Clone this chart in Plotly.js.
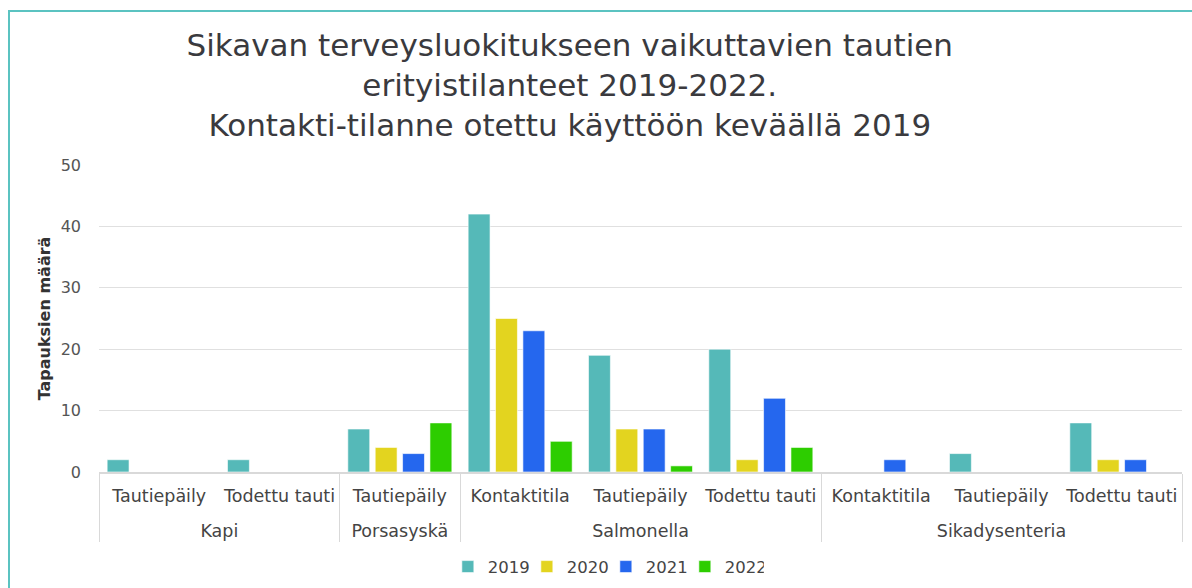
<!DOCTYPE html>
<html>
<head>
<meta charset="utf-8">
<script src="https://cdn.plot.ly/plotly-3.0.1.min.js"></script>
<style>
html,body{margin:0;padding:0;background:#fff;overflow:hidden;}
#frame{position:absolute;left:8px;top:10px;width:1200px;height:600px;border-left:2px solid #5BC3C1;border-top:2px solid #5BC3C1;box-sizing:border-box;pointer-events:none;}
#chart{position:absolute;left:0;top:0;width:1192px;height:588px;}
</style>
</head>
<body>
<div id="chart"></div>
<div id="frame"></div>
<script>
// Zero-width space (\u200B) keeps repeated sub-labels distinct so Plotly keeps the original order.
const ZW = "\u200B";
const diseases = ["Kapi","Kapi","Porsasyskä","Salmonella","Salmonella","Salmonella","Sikadysenteria","Sikadysenteria","Sikadysenteria"];
const situations = ["Tautiepäily","Todettu tauti","Tautiepäily","Kontaktitila","Tautiepäily"+ZW,"Todettu tauti"+ZW,"Kontaktitila","Tautiepäily"+ZW,"Todettu tauti"+ZW];
const years = ["2019","2020","2021","2022"];
const v2019 = [2,2,7,42,19,20,null,3,8];
const v2020 = [null,null,4,25,7,2,null,null,2];
const v2021 = [null,null,3,23,7,12,2,null,2];
const v2022 = [null,null,8,5,1,4,null,null,null];
const colors = ["#55B9B8","#E3D41F","#2567EE","#2DCD00"];
const series = [v2019,v2020,v2021,v2022];

// invisible padding (no-break spaces in a taller font) to leave room between the two label rows
const PAD = '<span style="font-size:35px">\u00A0</span>';
const innerLabels = situations.map(s => PAD + s + PAD);

const FONT = "DejaVu Sans, Open Sans, sans-serif";
const traces = series.map((vals,i)=>({
  type:"bar",
  name:years[i],
  x:[diseases,innerLabels],
  y:vals,
  marker:{color:colors[i],line:{color:"rgba(255,255,255,0.6)",width:1}},
  hoverinfo:"y"
}));

const layout = {
  width:1192,height:588,
  paper_bgcolor:"#fff",plot_bgcolor:"#fff",
  margin:{l:99,r:10,t:165,b:116,autoexpand:false},
  barmode:"group",bargap:0.09,bargroupgap:0.2,
  font:{family:FONT,color:"#404040"},
  title:{
    text:"Sikavan terveysluokitukseen vaikuttavien tautien<br>erityistilanteet 2019-2022.<br>Kontakti-tilanne otettu käyttöön keväällä 2019",
    font:{family:FONT,size:31,color:"#3a3a3e"},
    x:0.478,xref:"container",xanchor:"center",
    y:0.905,yref:"container",yanchor:"top"
  },
  yaxis:{
    range:[0,50],dtick:10,
    showgrid:true,gridcolor:"#e0e0e0",gridwidth:1,
    zeroline:false,showline:false,
    tickfont:{family:FONT,size:16,color:"#555"},
    ticklabelstandoff:17,
    title:{text:"<b>Tapauksien määrä</b>",font:{family:FONT,size:16,color:"#333"},standoff:6},
    fixedrange:true
  },
  xaxis:{
    type:"multicategory",
    showline:true,linecolor:"#d9d9d9",linewidth:2,
    showdividers:true,dividercolor:"#d9d9d9",dividerwidth:1,
    ticklabelstandoff:7,
    tickangle:0,
    tickfont:{family:FONT,size:17.5,color:"#444"},
    showgrid:false,zeroline:false,fixedrange:true
  },
  legend:{
    orientation:"h",x:0.468,xanchor:"center",y:-0.309,yanchor:"middle",
    font:{family:FONT,size:16.5,color:"#444"},
    itemwidth:30,entrywidth:34,traceorder:"normal"
  },
  showlegend:true
};

Plotly.newPlot("chart",traces,layout,{displayModeBar:false,staticPlot:true});
</script>
</body>
</html>
